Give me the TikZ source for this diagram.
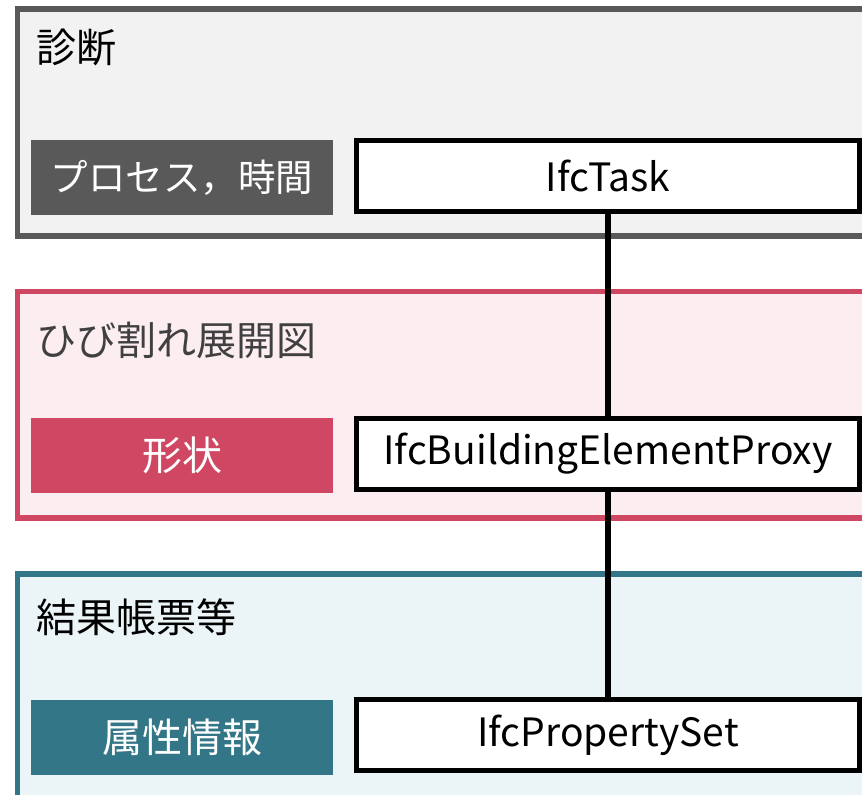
\documentclass[tikz,border=0pt]{standalone}
\usepackage{fontspec}
\setmainfont{Noto Sans CJK JP}
\definecolor{gborder}{HTML}{595959}
\definecolor{gfill}{HTML}{F2F2F2}
\definecolor{pborder}{HTML}{CF4763}
\definecolor{pfill}{HTML}{FBEDF0}
\definecolor{tborder}{HTML}{337687}
\definecolor{tfill}{HTML}{EBF4F7}
\definecolor{headgray}{HTML}{404040}
\tikzset{
  group/.style={draw, line width=5.5pt, rectangle, outer sep=0pt, inner sep=0pt,
    anchor=north west, minimum width=882.5pt, minimum height=227pt},
  heading/.style={anchor=west, inner sep=0pt, font=\fontsize{40}{44}\selectfont},
  label/.style={rectangle, outer sep=0pt, inner sep=0pt, anchor=north west,
    minimum width=302pt, minimum height=75pt, text=white, font=\fontsize{40}{44}\selectfont},
  ifc/.style={draw=black, fill=white, line width=5pt, rectangle, outer sep=0pt, inner sep=0pt,
    anchor=north west, minimum width=503pt, minimum height=71pt, font=\fontsize{39}{44}\selectfont},
  conn/.style={draw=black, line width=6pt}
}
\begin{document}
\begin{tikzpicture}[x=1pt,y=-1pt]
\useasboundingbox (0,0) rectangle (862,795);
\clip (0,0) rectangle (862,795);
\fill[white] (0,0) rectangle (862,795);
% groups
\node[group, draw=gborder, fill=gfill] (g1) at (17.5,9) {};
\node[group, draw=pborder, fill=pfill, minimum height=226.5pt] (g2) at (17.5,291.5) {};
\node[group, draw=tborder, fill=tfill] (g3) at (17.5,574) {};
% headings
\node[heading] (h1) at (36,47) {診断};
\node[heading, text=headgray] (h2) at (36,340) {ひび割れ展開図};
\node[heading] (h3) at (36,617) {結果帳票等};
% labels
\node[label, fill=gborder, font=\fontsize{37.5}{44}\selectfont] (l1) at (31,140) {プロセス，時間};
\node[label, fill=pborder] (l2) at (31,418) {形状};
\node[label, fill=tborder] (l3) at (31,700) {属性情報};
% ifc boxes
\node[ifc] (t1) at (356.5,140.5) {IfcTask};
\node[ifc] (t2) at (356.5,418.5) {IfcBuildingElementProxy};
\node[ifc] (t3) at (356.5,699.5) {IfcPropertySet};
% connectors
\draw[conn] (t1.south) -- (t2.north);
\draw[conn] (t2.south) -- (t3.north);
\end{tikzpicture}
\end{document}
